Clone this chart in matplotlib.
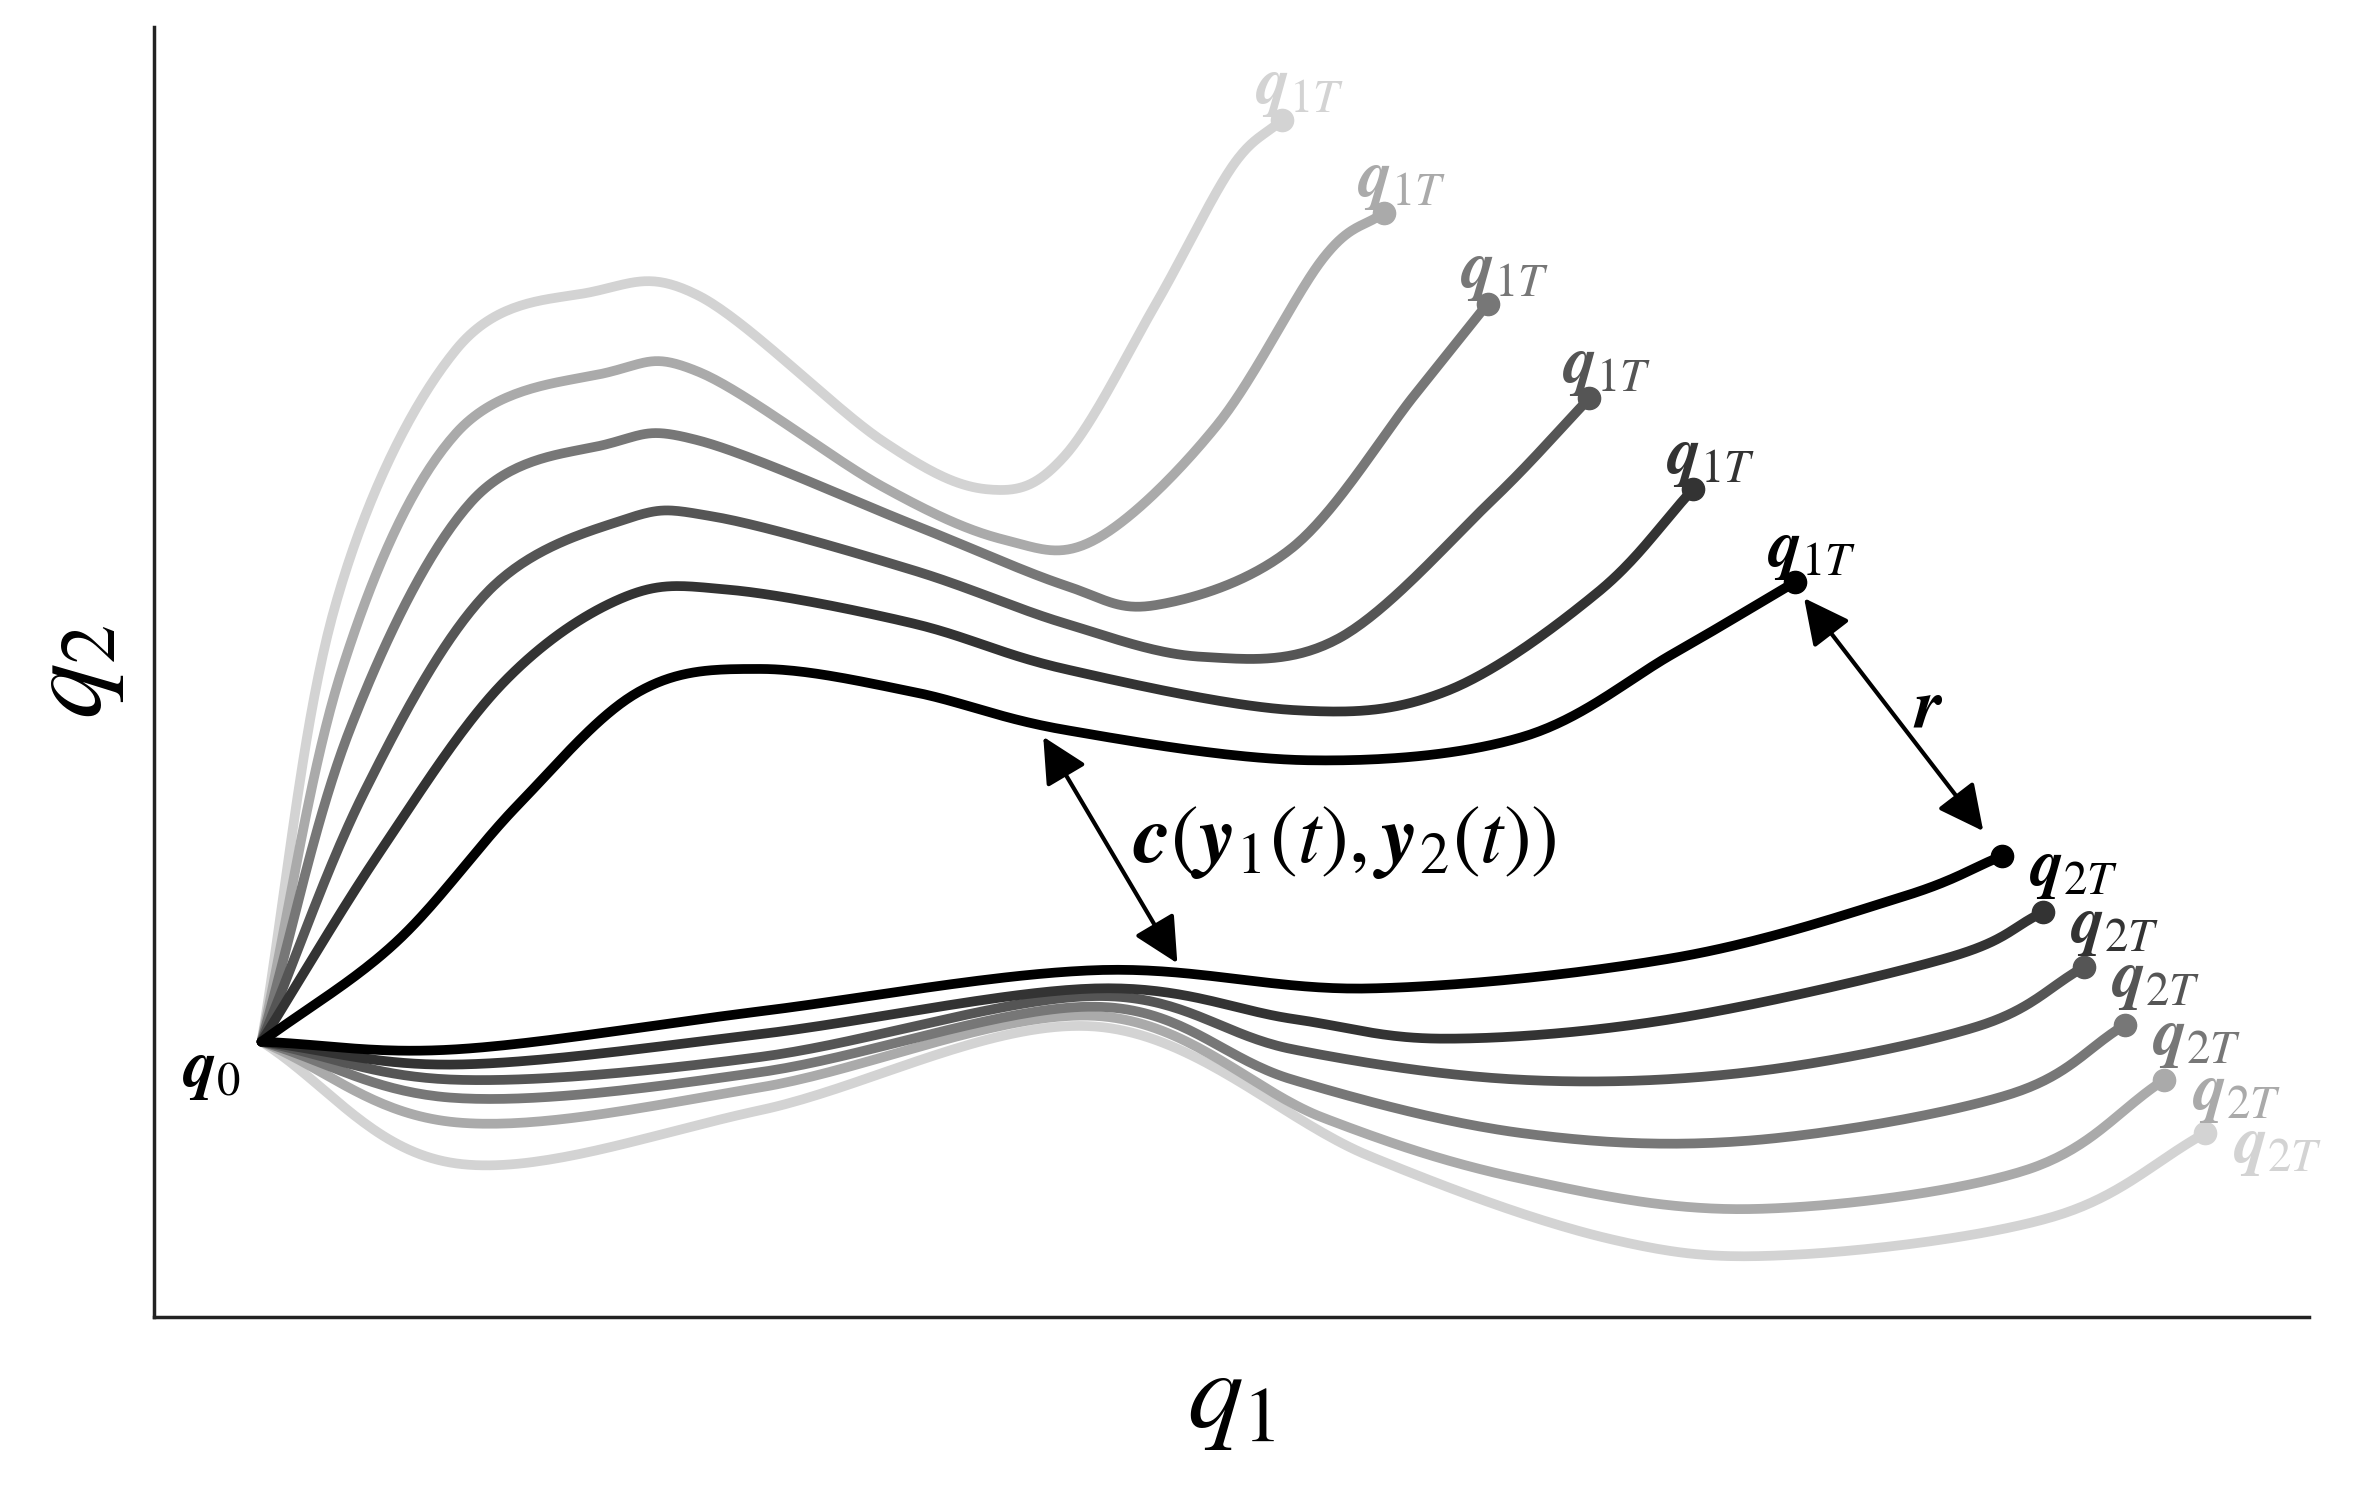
import matplotlib.pyplot as plt
import numpy as np

plt.rcParams['mathtext.fontset'] = 'stix'

# key points (x right, y down, in picture pixels)
q0 = (172, 685)
shades = ['#000000', '#333333', '#555555', '#777777', '#aaaaaa', '#d3d3d3']

upper_x = [
    [172, 260, 340, 420, 500, 600, 700, 860, 1000, 1100, 1180],
    [172, 250, 330, 410, 480, 600, 700, 850, 950, 1050, 1113],
    [172, 240, 320, 410, 470, 600, 700, 790, 880, 980, 1045],
    [172, 230, 310, 400, 460, 600, 700, 760, 850, 930, 978],
    [172, 225, 300, 400, 460, 580, 660, 720, 800, 870, 910],
    [172, 220, 300, 390, 460, 580, 650, 700, 760, 810, 843],
]
upper_y = [
    [685, 620, 530, 455, 440, 455, 480, 500, 485, 430, 383],
    [685, 560, 450, 393, 388, 410, 440, 467, 455, 390, 322],
    [685, 520, 390, 342, 340, 375, 410, 432, 420, 330, 262],
    [685, 480, 330, 292, 290, 345, 385, 398, 360, 260, 200],
    [685, 440, 285, 245, 245, 320, 355, 355, 280, 170, 140],
    [685, 400, 230, 192, 195, 290, 322, 300, 200, 110, 79],
]
lower_x = [
    [172, 300, 500, 720, 900, 1100, 1250, 1316],
    [172, 300, 500, 720, 850, 950, 1100, 1280, 1343],
    [172, 300, 500, 720, 850, 1000, 1150, 1300, 1370],
    [172, 300, 500, 720, 850, 1000, 1150, 1320, 1397],
    [172, 300, 500, 720, 870, 1000, 1150, 1330, 1423],
    [172, 300, 500, 720, 900, 1060, 1180, 1350, 1450],
]
lower_y = [
    [685, 690, 665, 638, 650, 630, 590, 563],
    [685, 700, 680, 650, 670, 683, 670, 630, 600],
    [685, 710, 695, 655, 690, 710, 705, 675, 636],
    [685, 722, 705, 662, 710, 745, 750, 720, 674],
    [685, 738, 715, 668, 735, 775, 795, 770, 710],
    [685, 765, 730, 675, 760, 815, 825, 800, 745],
]


def smooth(xs, ys, n=40):
    # Catmull-Rom through the read points
    p = np.column_stack([xs, ys]).astype(float)
    p = np.vstack([2 * p[0] - p[1], p, 2 * p[-1] - p[-2]])
    out = []
    t = np.linspace(0, 1, n)[:, None]
    for i in range(1, len(p) - 2):
        a, b, c, d = p[i - 1], p[i], p[i + 1], p[i + 2]
        seg = 0.5 * ((2 * b) + (-a + c) * t + (2 * a - 5 * b + 4 * c - d) * t ** 2
                     + (-a + 3 * b - 3 * c + d) * t ** 3)
        out.append(seg)
    s = np.vstack(out)
    return s[:, 0], s[:, 1]


fig = plt.figure(figsize=(23.73, 14.95), dpi=100)
ax = fig.add_axes([0.0647, 0.119, 0.9083, 0.863])
ax.set_xlim(101, 1518)
ax.set_ylim(866, 18)

lab = dict(fontsize=48, va='center')
for i in reversed(range(6)):
    c = shades[i]
    x, y = smooth(upper_x[i], upper_y[i])
    ax.plot(x, y, color=c, lw=7, solid_capstyle='round')
    ax.plot(upper_x[i][-1], upper_y[i][-1], 'o', color=c, ms=16)
    ax.text(upper_x[i][-1] - 18, upper_y[i][-1] - 22, r'$\mathbfit{q}_{1T}$', color=c, **lab)
    x, y = smooth(lower_x[i], lower_y[i])
    ax.plot(x, y, color=c, lw=7, solid_capstyle='round')
    ax.plot(lower_x[i][-1], lower_y[i][-1], 'o', color=c, ms=16)
    ax.text(lower_x[i][-1] + 18, lower_y[i][-1] + 8, r'$\mathbfit{q}_{2T}$', color=c, **lab)

ax.text(q0[0] - 52, q0[1] + 18, r'$\mathbfit{q}_0$', **lab)

arrow = dict(arrowstyle='<|-|>', color='black', lw=3, mutation_scale=70)
ax.annotate('', xy=(775, 635), xytext=(685, 483), arrowprops=arrow)
ax.annotate('', xy=(1305, 548), xytext=(1185, 392), arrowprops=arrow)
ax.text(1258, 465, r'$\mathbfit{r}$', fontsize=50, va='center')
ax.text(745, 553, r'$\mathbfit{c}(\mathbfit{y}_1(t),\mathbfit{y}_2(t))$', fontsize=60, va='center')

ax.set_xticks([])
ax.set_yticks([])
for s in ['top', 'right']:
    ax.spines[s].set_visible(False)
for s in ['left', 'bottom']:
    ax.spines[s].set_linewidth(2.5)
    ax.spines[s].set_color('#222222')
ax.set_xlabel(r'$q_1$', fontsize=80, labelpad=20)
ax.set_ylabel(r'$q_2$', fontsize=80, labelpad=20)

fig.savefig('out.png', dpi=100)
